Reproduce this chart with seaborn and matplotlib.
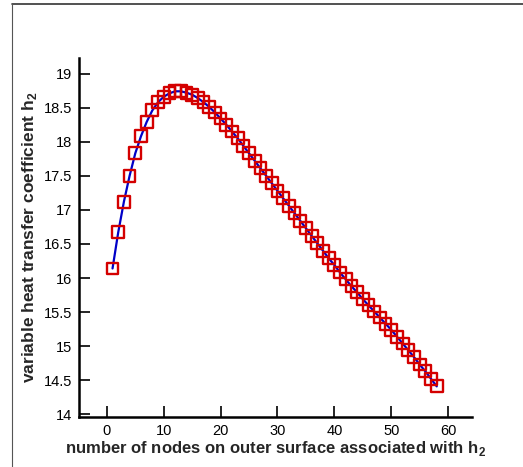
import matplotlib
matplotlib.use('Agg')
import matplotlib.pyplot as plt
import seaborn as sns
import pandas as pd
from matplotlib.ticker import MultipleLocator, FormatStrFormatter
from matplotlib.lines import Line2D

# nodes on the outer surface and the heat transfer coefficient h2
nodes = list(range(1, 59))
h2 = [16.14, 16.67, 17.12, 17.50, 17.83, 18.08, 18.29, 18.46, 18.58, 18.66,
      18.71, 18.74, 18.74, 18.72, 18.69, 18.64, 18.58, 18.51, 18.43, 18.34,
      18.25, 18.15, 18.05, 17.94, 17.83, 17.72, 17.61, 17.50, 17.39, 17.28,
      17.17, 17.06, 16.95, 16.84, 16.73, 16.62, 16.51, 16.40, 16.29, 16.19,
      16.08, 15.98, 15.88, 15.79, 15.69, 15.60, 15.51, 15.42, 15.33, 15.24,
      15.14, 15.04, 14.94, 14.84, 14.73, 14.63, 14.52, 14.41]

df = pd.DataFrame({'node': nodes, 'h2': h2})

sns.set_style('white')
plt.rcParams['font.family'] = ['Liberation Sans', 'DejaVu Sans']
plt.rcParams['mathtext.fontset'] = 'custom'
plt.rcParams['mathtext.rm'] = 'Liberation Sans'
plt.rcParams['mathtext.bf'] = 'Liberation Sans:bold'

fig = plt.figure(figsize=(5.23, 4.67), dpi=100)
ax = fig.add_axes([0.151, 0.107, 0.7515, 0.769])

sns.lineplot(data=df, x='node', y='h2', ax=ax, color='#0000c8', linewidth=1.6)
sns.scatterplot(data=df, x='node', y='h2', ax=ax, marker='s', s=72,
                facecolors='none', edgecolor='#d40000', linewidth=1.7, zorder=3)

ax.set_xlim(-4.9, 64.2)
ax.set_ylim(13.96, 19.23)
ax.xaxis.set_major_locator(MultipleLocator(10))
ax.xaxis.set_minor_locator(MultipleLocator(2))
ax.yaxis.set_major_locator(MultipleLocator(0.5))
ax.yaxis.set_minor_locator(MultipleLocator(0.1))
ax.yaxis.set_major_formatter(FormatStrFormatter('%g'))
ax.tick_params(which='both', direction='in', colors='black', labelsize=10.5, width=1.2)
ax.tick_params(which='major', length=8, pad=5)
ax.tick_params(which='minor', length=4.5)
ax.tick_params(axis='both', bottom=True, left=True)

for side in ['top', 'right']:
    ax.spines[side].set_visible(False)
for side in ['left', 'bottom']:
    ax.spines[side].set_color('black')
    ax.spines[side].set_linewidth(1.8)

ax.set_xlabel(r'number of nodes on outer surface associated with h$_\mathbf{2}$',
              fontsize=12, fontweight='bold', labelpad=1)
ax.set_ylabel(r'variable heat transfer coefficient h$_\mathbf{2}$',
              fontsize=12.5, fontweight='bold', labelpad=3)

# thin frame lines round the figure (top and left)
fig.add_artist(Line2D([0.022, 1.0], [0.992, 0.992], transform=fig.transFigure,
                      color='#333333', linewidth=1.2))
fig.add_artist(Line2D([0.022, 0.022], [0.0, 0.992], transform=fig.transFigure,
                      color='#555555', linewidth=0.8))

fig.savefig('out.png', dpi=100)
